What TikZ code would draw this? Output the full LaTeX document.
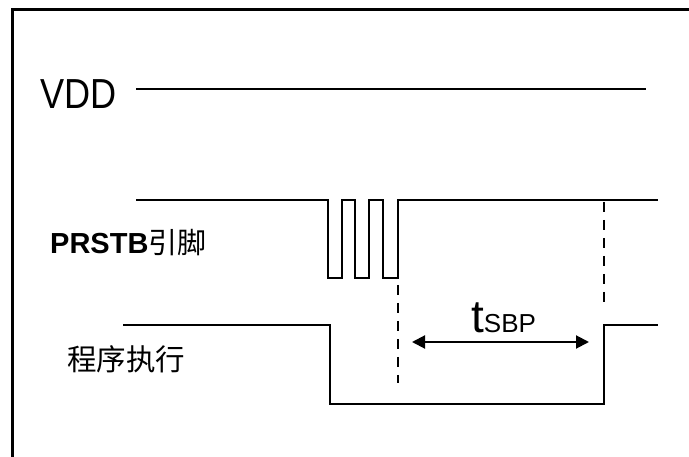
\documentclass[tikz,border=0pt]{standalone}
\usepackage{fontspec}
\setmainfont{Liberation Sans}
\newfontfamily\cjk{Noto Sans CJK SC}
\usetikzlibrary{arrows.meta}
\begin{document}
\begin{tikzpicture}[x=1pt,y=-1pt,
  sig/.style={line width=2.3pt, line join=miter},
  dsh/.style={line width=2pt, dash pattern=on 10pt off 8pt},
  lbl/.style={inner sep=0pt, anchor=west}]
\useasboundingbox (0,0) rectangle (689,457);
\draw[line width=3pt] (689,10) -- (12,10) -- (12,457);
\node[lbl] (vdd) at (40,94) {\fontsize{42}{42}\selectfont\scalebox{0.86}[1]{VDD}};
\draw[sig] (136,89) -- (646,89);
\node[lbl] (prstb) at (50,243) {\fontsize{29}{29}\selectfont\textbf{PRSTB}{\cjk 引脚}};
\draw[sig] (136,200) -- (328,200) -- (328,278) -- (342,278) -- (342,200) -- (355,200) -- (355,278) -- (369,278) -- (369,200) -- (383,200) -- (383,278) -- (398,278) -- (398,200) -- (658,200);
\node[lbl] (prog) at (67,359) {\fontsize{29.5}{29.5}\selectfont\cjk 程序执行};
\draw[sig] (123,325) -- (330,325) -- (330,404) -- (604,404) -- (604,325) -- (658,325);
\draw[dsh] (398,285) -- (398,383);
\draw[dsh] (604,202) -- (604,303);
\coordinate (a1) at (412,342);
\coordinate (a2) at (589,342);
\draw[line width=2pt, {Triangle[length=13pt,width=13pt]}-{Triangle[length=13pt,width=13pt]}] (a1) -- (a2);
\node[inner sep=0pt, anchor=base west] (tsbp) at (471,333) {{\fontsize{46}{46}\selectfont t}{\fontsize{26}{26}\selectfont SBP}};
\end{tikzpicture}
\end{document}
